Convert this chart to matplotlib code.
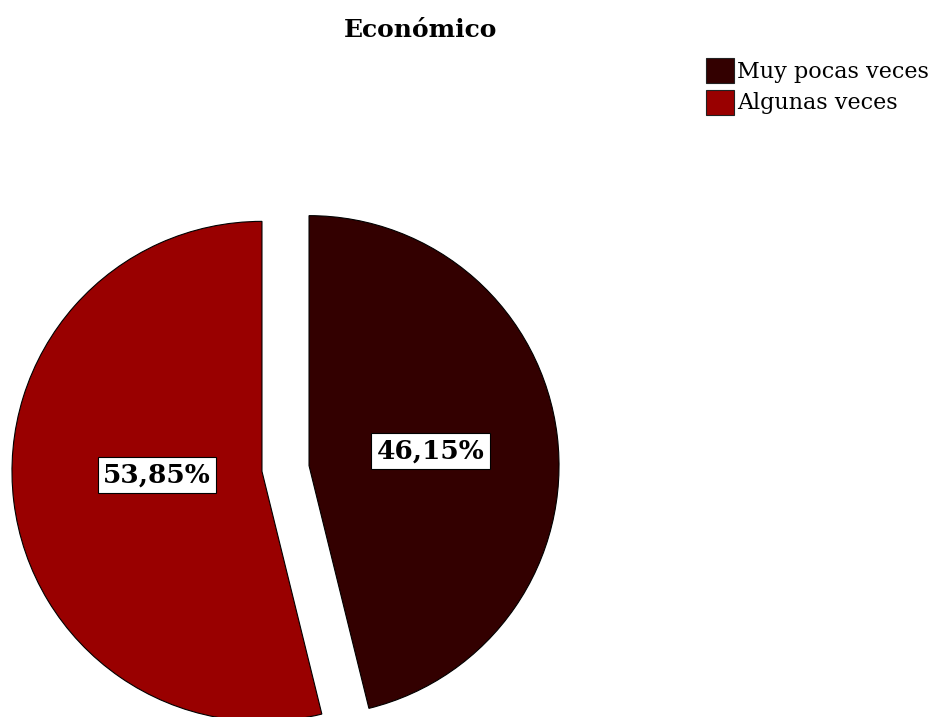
import numpy as np
import matplotlib.pyplot as plt
from matplotlib.patches import Patch

# Economic factor: share of answers per frequency category
categories = ["Muy pocas veces", "Algunas veces"]
percentages = [46.15, 53.85]
colors = ["#330000", "#990000"]

plt.rcParams["font.family"] = ["DejaVu Serif"]

W, H = 933, 717
fig = plt.figure(figsize=(W / 100, H / 100), dpi=100)
ax = fig.add_axes([0, 0, 1, 1])

# work in pixel-like data units so the pie sits where we want it
wedges, texts, autotexts = ax.pie(
    percentages,
    colors=colors,
    center=(285.5, 248.5),
    radius=250,
    startangle=90,
    counterclock=False,
    explode=[23.7, 23.7],
    autopct=lambda p: f"{p:.2f}%".replace(".", ","),
    pctdistance=0.49,
    wedgeprops=dict(edgecolor="black", linewidth=0.8),
    textprops=dict(fontsize=19, fontweight="bold", color="black"),
)

# the bigger slice gets its label a bit closer to the middle
label_dist = [0.49, 0.42]
label_angle_shift = [0, -5]
for w, t, d, s in zip(wedges, autotexts, label_dist, label_angle_shift):
    ang = np.deg2rad((w.theta1 + w.theta2) / 2 + s)
    cx, cy = w.center
    t.set_position((cx + d * w.r * np.cos(ang), cy + d * w.r * np.sin(ang)))
    t.set_bbox(dict(boxstyle="square,pad=0.2", facecolor="white",
                    edgecolor="black", linewidth=0.8))

ax.set_xlim(0, W)
ax.set_ylim(0, H)
ax.set_aspect("equal")
ax.axis("off")

fig.text(421 / W, 1 - 30 / H, "Económico", ha="center", va="center",
         fontsize=18, fontweight="bold")

handles = [Patch(facecolor=c, edgecolor="#222222", linewidth=0.8) for c in colors]
fig.legend(handles, categories, loc="upper left",
           bbox_to_anchor=(706 / W, 1 - 58 / H), frameon=False,
           fontsize=16, handlelength=1.25, handleheight=1.35,
           handletextpad=0.15, labelspacing=0.3, borderpad=0, borderaxespad=0)

fig.savefig("out.png", dpi=100)
